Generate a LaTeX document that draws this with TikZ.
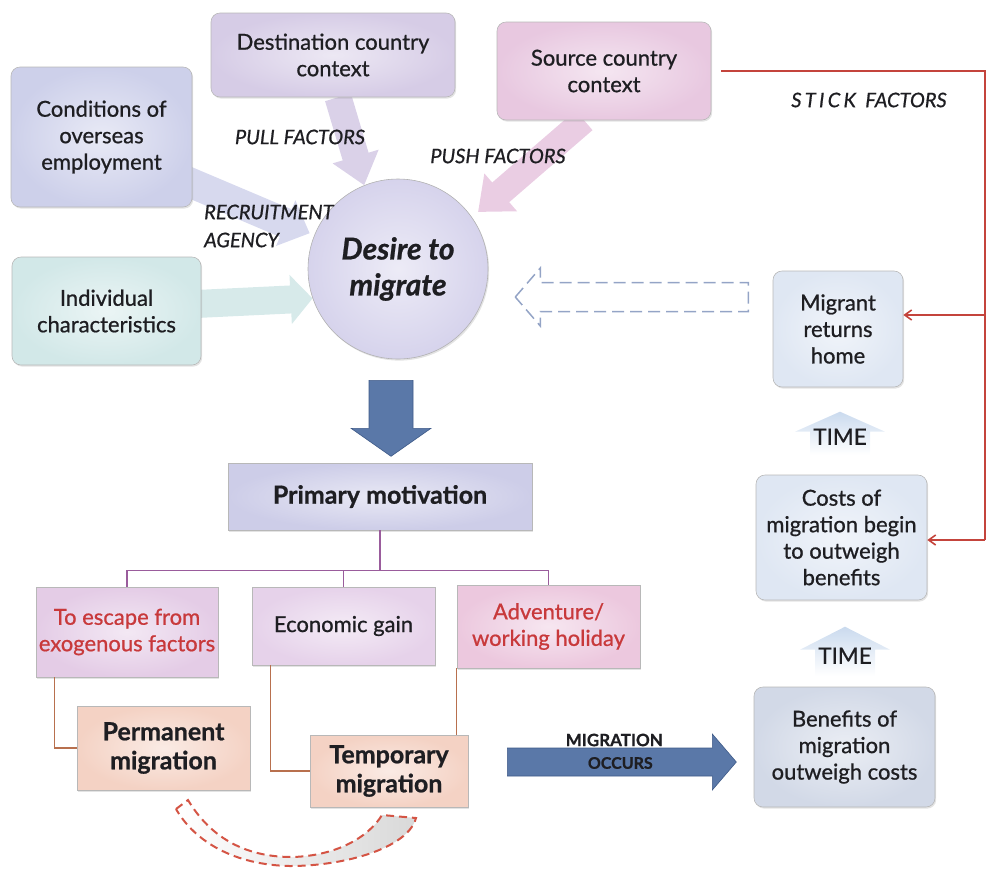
\documentclass[tikz,border=0pt]{standalone}
\usepackage{fontspec}
\setmainfont{Lato}[FakeBold=0.8]
\usetikzlibrary{shapes.geometric,arrows.meta,calc,shadows,backgrounds}

\definecolor{txt}{HTML}{1E1E22}
\definecolor{redtxt}{HTML}{C8393B}
\definecolor{destc}{HTML}{D6CCE6}
\definecolor{sourcec}{HTML}{E8C8E0}
\definecolor{condc}{HTML}{CDD0EA}
\definecolor{indivc}{HTML}{D2E8E8}
\definecolor{circc}{HTML}{D6D3EC}
\definecolor{primc}{HTML}{CDCDE8}
\definecolor{escc}{HTML}{E4CCE6}
\definecolor{econc}{HTML}{E6D2EA}
\definecolor{advc}{HTML}{ECC8DE}
\definecolor{migc}{HTML}{F4D2C4}
\definecolor{retc}{HTML}{DFE7F3}
\definecolor{benc}{HTML}{D2D9E7}
\definecolor{steel}{HTML}{5A78A8}
\definecolor{steeldark}{HTML}{3E5A88}
\definecolor{treec}{HTML}{9A5C9C}
\definecolor{brownc}{HTML}{B8704E}
\definecolor{stickc}{HTML}{C4443C}
\definecolor{dashblue}{HTML}{94A4C6}
\definecolor{reddash}{HTML}{D45444}
\definecolor{timec}{HTML}{CADAEE}

\begin{document}
\begin{tikzpicture}[x=1pt,y=-1pt,
  basebox/.style={draw=black!28, line width=0.6pt, align=center, text=txt,
    font=\fontsize{22}{26.5}\selectfont, inner sep=2pt,
    drop shadow={shadow xshift=1.2pt, shadow yshift=-1.6pt, opacity=0.22}},
  rbox/.style={basebox, rounded corners=9pt},
  tint/.style={inner color=#1!45!white, outer color=#1},
  lbl/.style={font=\itshape\fontsize{20}{28}\selectfont, text=txt, inner sep=0pt},
  tree/.style={draw=treec, line width=1.2pt},
  stem/.style={draw=brownc, line width=1.1pt},
  stick/.style={draw=stickc, line width=1.6pt},
  sticktip/.style={stick, -{Straight Barb[length=7pt,width=10pt]}},
  timebox/.style={top color=timec, bottom color=white, draw=none},
  timetxt/.style={font=\fontsize{22.5}{26}\selectfont, text=txt, inner sep=0pt},
  boldbox/.style={font=\bfseries\fontsize{25}{29}\selectfont},
  bigarrow/.style={fill=steel, draw=steeldark, line width=0.6pt}]

\useasboundingbox (0,0) rectangle (987,871);

% boxes of the upper part
\node[rbox, tint=destc, minimum width=244pt, minimum height=84pt] (dest) at (333,55) {Destination country\\context};
\node[rbox, tint=sourcec, minimum width=214pt, minimum height=98pt] (source) at (604,71) {Source country\\context};
\node[rbox, tint=condc, minimum width=181pt, minimum height=140pt] (cond) at (101.5,137) {Conditions of\\overseas\\employment};
\node[rbox, tint=indivc, minimum width=189pt, minimum height=108pt] (indiv) at (106.5,311) {Individual\\characteristics};
\node[circle, draw=black!30, line width=0.6pt, tint=circc, minimum size=180pt, align=center, text=txt,
  font=\bfseries\itshape\fontsize{30}{36}\selectfont,
  drop shadow={shadow xshift=1.2pt, shadow yshift=-1.6pt, opacity=0.22}] (desire) at (398,269) {Desire to\\migrate};

% boxes of the right column
\node[rbox, tint=retc, minimum width=130pt, minimum height=116pt] (migrant) at (838,329) {Migrant\\returns\\home};
\node[rbox, tint=retc, minimum width=171pt, minimum height=125pt] (costs) at (841.5,537.5) {Costs of\\migration begin\\to outweigh\\benefits};
\node[rbox, tint=benc, minimum width=181pt, minimum height=120pt] (benefits) at (844.5,747) {Benefits of\\migration\\outweigh costs};

% motivation tree
\node[basebox, tint=primc, minimum width=304pt, minimum height=67pt, boldbox] (primary) at (380,496.5) {Primary motivation};
\node[basebox, tint=escc, minimum width=182pt, minimum height=90pt, text=redtxt] (escape) at (127,632) {To escape from\\exogenous factors};
\node[basebox, tint=econc, minimum width=183pt, minimum height=78pt] (economic) at (343.5,626) {Economic gain};
\node[basebox, tint=advc, minimum width=183pt, minimum height=83pt, text=redtxt] (adventure) at (548.5,626.5) {Adventure/\\working holiday};
\node[basebox, tint=migc, minimum width=173pt, minimum height=84pt, boldbox] (permanent) at (163.5,748) {Permanent\\migration};
\node[basebox, tint=migc, minimum width=158pt, minimum height=72pt, boldbox] (temporary) at (389,771) {Temporary\\migration};

% broad arrows feeding the desire to migrate
\begin{scope}[on background layer]
  \draw[line width=27pt, draw=destc!90, -{Triangle[length=30pt,width=46pt]}]
    ($(dest.south)+(5,0)$) -- (desire.112);
  \draw[line width=26pt, draw=sourcec!90, -{Triangle[length=30pt,width=48pt]}, shorten >=8pt]
    ($(source.south)+(-20,0)$) -- (desire.35);
  \draw[line width=30pt, draw=condc!80, -{Triangle[length=26pt,width=48pt]}, shorten >=5pt]
    ($(cond.south east)+(-10,-28)$) -- (desire.158);
  \draw[line width=28pt, draw=indivc!90, -{Triangle[length=22pt,width=48pt]}]
    ($(indiv.east)+(-5,-7)$) -- (desire.199);
\end{scope}

\node[lbl] (pull) at (300,137) {PULL FACTORS};
\node[lbl] (push) at (498,156) {PUSH FACTORS};
\node[lbl, anchor=west, align=left] (recruit) at (204,226) {RECRUITMENT\\AGENCY};
\node[lbl] (stickl) at (869,100) {S\,T\,I\,C\,K\ \ FACTORS};

% down arrow to the primary motivation
\coordinate (dn) at ($(desire.south)+(-7,21)$);
\path[bigarrow] (dn) -- ++(-22,0) -- ++(0,48) -- ++(-18,0) -- ++(40,28) -- ++(40,-28) -- ++(-18,0) -- ++(0,-48) -- cycle;

% tree connectors
\draw[tree] (primary.south) -- ++(0,40) coordinate (fork) -| (escape.north);
\draw[tree] (fork) -| (economic.north);
\draw[tree] (fork) -| (adventure.north);
\draw[stem] ($(escape.south west)+(19,0)$) |- (permanent.west);
\draw[stem] ($(economic.south west)+(19,0)$) |- (temporary.west);
\draw[stem] (adventure.south west) -- (adventure.south west |- temporary.north);

% migration occurs
\coordinate (mo) at ($(temporary.east)+(39,-9)$);
\path[bigarrow] (mo) -- ++(0,-14) -- ++(205,0) -- ++(0,-14) -- ++(24,28) -- ++(-24,28) -- ++(0,-14) -- ++(-205,0) -- cycle;
\node[font=\bfseries\fontsize{17}{20}\selectfont, text=txt, inner sep=0pt] (mig1) at ($(mo)+(107,-22)$) {MIGRATION};
\node[font=\bfseries\fontsize{16}{20}\selectfont, text=txt, inner sep=0pt] (mig2) at ($(mo)+(113,1)$) {OCCURS};

% time arrows
\coordinate (tb1) at ($(costs.north)+(-1.5,-20)$);
\path[timebox] (tb1) -- ++(-30,0) -- ++(0,-23) -- ++(-15,0) -- ++(45,-20) -- ++(45,20) -- ++(-15,0) -- ++(0,23) -- cycle;
\node[timetxt] (time1) at ($(tb1)+(0,-18)$) {TIME};
\coordinate (tb2) at ($(benefits.north)+(0.5,-11)$);
\path[timebox] (tb2) -- ++(-30,0) -- ++(0,-26) -- ++(-15,0) -- ++(45,-23) -- ++(45,23) -- ++(-15,0) -- ++(0,26) -- cycle;
\node[timetxt] (time2) at ($(tb2)+(0,-20)$) {TIME};

% stick factors
\coordinate (stickA) at ($(source.east)+(10,0)$);
\coordinate (stickB) at (985,71);
\coordinate (stickC) at (985,540);
\coordinate (stickM) at ($(migrant.east)+(0,-14)$);
\draw[stick] (stickA) -- (stickB) -- (stickC);
\draw[sticktip] (stickC) -- (costs.east |- stickC);
\draw[sticktip] (stickB |- stickM) -- (stickM);

% dashed return arrow
\coordinate (rt) at ($(desire.east)+(27,28)$);
\draw[draw=dashblue, line width=1.5pt, dash pattern=on 12pt off 6pt]
  (rt) -- ++(25,-29) -- ++(0,14.5) -- ++(208,0) -- ++(0,29) -- ++(-208,0) -- ++(0,14.5) -- cycle;

% dashed curved arrow between migration types
\draw[draw=reddash, line width=2pt, dash pattern=on 8pt off 5pt, left color=white, right color=black!15]
  (176,809) -- (188,800) .. controls (215,845) and (255,857) .. (292,857)
  .. controls (335,856) and (368,838) .. (382,815) -- (416,818)
  .. controls (408,848) and (345,866) .. (290,866)
  .. controls (235,865) and (195,842) .. (176,809) -- cycle;

\end{tikzpicture}
\end{document}
